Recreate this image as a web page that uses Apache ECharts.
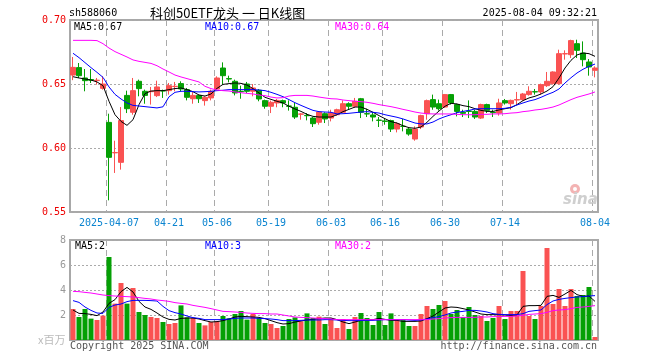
<!DOCTYPE html>
<html><head><meta charset="utf-8">
<script src="https://cdn.jsdelivr.net/npm/echarts@6/dist/echarts.min.js"></script>
<style>html,body{margin:0;padding:0;background:#fff}#c{width:660px;height:360px}</style>
</head><body><div id="c"></div>
<script>
const dates = ['2025-03-27','2025-03-28','2025-03-31','2025-04-01','2025-04-02','2025-04-03','2025-04-07','2025-04-08','2025-04-09','2025-04-10','2025-04-11','2025-04-14','2025-04-15','2025-04-16','2025-04-17','2025-04-18','2025-04-21','2025-04-22','2025-04-23','2025-04-24','2025-04-25','2025-04-28','2025-04-29','2025-04-30','2025-05-06','2025-05-07','2025-05-08','2025-05-09','2025-05-12','2025-05-13','2025-05-14','2025-05-15','2025-05-16','2025-05-19','2025-05-20','2025-05-21','2025-05-22','2025-05-23','2025-05-26','2025-05-27','2025-05-28','2025-05-29','2025-05-30','2025-06-03','2025-06-04','2025-06-05','2025-06-06','2025-06-09','2025-06-10','2025-06-11','2025-06-12','2025-06-13','2025-06-16','2025-06-17','2025-06-18','2025-06-19','2025-06-20','2025-06-23','2025-06-24','2025-06-25','2025-06-26','2025-06-27','2025-06-30','2025-07-01','2025-07-02','2025-07-03','2025-07-04','2025-07-07','2025-07-08','2025-07-09','2025-07-10','2025-07-11','2025-07-14','2025-07-15','2025-07-16','2025-07-17','2025-07-18','2025-07-21','2025-07-22','2025-07-23','2025-07-24','2025-07-25','2025-07-28','2025-07-29','2025-07-30','2025-07-31','2025-08-01','2025-08-04'];
const tickDates = ['2025-04-07','2025-04-21','2025-05-06','2025-05-19','2025-06-03','2025-06-16','2025-06-30','2025-07-14','2025-08-04'];
const tickLabels = ['2025-04-07','04-21','05-06','05-19','06-03','06-16','06-30','07-14','08-04'];

const opens  = [0.6570,0.6628,0.6547,0.6535,0.6527,0.6466,0.6200,0.5962,0.5888,0.6411,0.6279,0.6521,0.6443,0.6440,0.6409,0.6448,0.6448,0.6480,0.6503,0.6456,0.6385,0.6411,0.6370,0.6391,0.6461,0.6625,0.6542,0.6521,0.6443,0.6500,0.6443,0.6451,0.6370,0.6326,0.6352,0.6370,0.6328,0.6318,0.6264,0.6255,0.6234,0.6201,0.6268,0.6234,0.6260,0.6279,0.6346,0.6326,0.6385,0.6268,0.6258,0.6218,0.6211,0.6214,0.6148,0.6170,0.6148,0.6070,0.6164,0.6268,0.6378,0.6346,0.6320,0.6417,0.6339,0.6279,0.6289,0.6286,0.6234,0.6339,0.6279,0.6273,0.6370,0.6346,0.6375,0.6378,0.6417,0.6440,0.6438,0.6487,0.6503,0.6503,0.6735,0.6729,0.6815,0.6742,0.6672,0.6607];
const closes = [0.6630,0.6565,0.6526,0.6530,0.6530,0.6500,0.5927,0.5965,0.6214,0.6307,0.6448,0.6464,0.6411,0.6443,0.6477,0.6445,0.6487,0.6482,0.6461,0.6396,0.6411,0.6385,0.6396,0.6443,0.6547,0.6565,0.6539,0.6430,0.6440,0.6443,0.6469,0.6383,0.6326,0.6357,0.6372,0.6352,0.6326,0.6242,0.6266,0.6252,0.6190,0.6281,0.6227,0.6273,0.6299,0.6346,0.6326,0.6365,0.6279,0.6266,0.6242,0.6216,0.6208,0.6148,0.6190,0.6169,0.6109,0.6148,0.6253,0.6370,0.6320,0.6307,0.6417,0.6352,0.6286,0.6271,0.6286,0.6242,0.6339,0.6294,0.6276,0.6352,0.6352,0.6372,0.6378,0.6422,0.6443,0.6438,0.6495,0.6521,0.6594,0.6737,0.6737,0.6839,0.6763,0.6690,0.6633,0.6625];
const lows   = [0.6530,0.6547,0.6443,0.6508,0.6495,0.6456,0.5591,0.5805,0.5831,0.6273,0.6260,0.6404,0.6346,0.6339,0.6398,0.6391,0.6417,0.6443,0.6443,0.6372,0.6346,0.6352,0.6331,0.6372,0.6456,0.6495,0.6513,0.6411,0.6385,0.6430,0.6404,0.6365,0.6307,0.6273,0.6318,0.6318,0.6292,0.6227,0.6221,0.6216,0.6164,0.6182,0.6195,0.6208,0.6253,0.6274,0.6299,0.6313,0.6234,0.6242,0.6208,0.6164,0.6182,0.6125,0.6122,0.6130,0.6096,0.6057,0.6148,0.6221,0.6299,0.6292,0.6313,0.6339,0.6247,0.6242,0.6234,0.6227,0.6227,0.6273,0.6242,0.6253,0.6339,0.6300,0.6339,0.6370,0.6409,0.6417,0.6417,0.6477,0.6495,0.6495,0.6690,0.6703,0.6703,0.6638,0.6565,0.6552];
const highs  = [0.6711,0.6664,0.6617,0.6617,0.6547,0.6560,0.6268,0.6057,0.6320,0.6448,0.6547,0.6534,0.6456,0.6477,0.6526,0.6456,0.6508,0.6516,0.6521,0.6469,0.6443,0.6417,0.6404,0.6456,0.6560,0.6669,0.6565,0.6534,0.6487,0.6516,0.6500,0.6461,0.6378,0.6370,0.6383,0.6378,0.6372,0.6352,0.6273,0.6273,0.6242,0.6286,0.6279,0.6299,0.6307,0.6372,0.6357,0.6391,0.6391,0.6307,0.6279,0.6242,0.6234,0.6221,0.6201,0.6227,0.6164,0.6169,0.6260,0.6378,0.6417,0.6378,0.6422,0.6422,0.6346,0.6299,0.6372,0.6299,0.6346,0.6346,0.6299,0.6385,0.6383,0.6378,0.6438,0.6430,0.6482,0.6461,0.6503,0.6594,0.6599,0.6768,0.6763,0.6846,0.6846,0.6833,0.6695,0.6638];

const ma5  = [0.6557,0.6547,0.6539,0.6531,0.6516,0.6487,0.6365,0.6260,0.6208,0.6177,0.6221,0.6339,0.6425,0.6445,0.6448,0.6448,0.6456,0.6464,0.6469,0.6456,0.6440,0.6414,0.6406,0.6422,0.6466,0.6497,0.6503,0.6508,0.6505,0.6492,0.6464,0.6430,0.6396,0.6380,0.6365,0.6352,0.6326,0.6305,0.6286,0.6263,0.6247,0.6242,0.6242,0.6242,0.6260,0.6284,0.6302,0.6320,0.6320,0.6302,0.6279,0.6253,0.6229,0.6206,0.6195,0.6174,0.6159,0.6154,0.6164,0.6201,0.6247,0.6289,0.6326,0.6349,0.6344,0.6331,0.6323,0.6307,0.6294,0.6286,0.6286,0.6297,0.6307,0.6315,0.6339,0.6370,0.6391,0.6404,0.6422,0.6445,0.6479,0.6547,0.6625,0.6685,0.6727,0.6742,0.6737,0.6716];
const ma10 = [0.6740,0.6706,0.6667,0.6628,0.6591,0.6552,0.6477,0.6419,0.6383,0.6352,0.6333,0.6328,0.6323,0.6318,0.6313,0.6322,0.6400,0.6435,0.6443,0.6443,0.6440,0.6438,0.6440,0.6443,0.6448,0.6451,0.6456,0.6456,0.6456,0.6456,0.6456,0.6453,0.6448,0.6435,0.6419,0.6401,0.6378,0.6354,0.6333,0.6313,0.6294,0.6284,0.6281,0.6279,0.6266,0.6268,0.6271,0.6276,0.6281,0.6284,0.6279,0.6273,0.6260,0.6250,0.6240,0.6227,0.6211,0.6195,0.6188,0.6188,0.6203,0.6227,0.6245,0.6260,0.6276,0.6286,0.6294,0.6305,0.6307,0.6307,0.6307,0.6307,0.6310,0.6318,0.6336,0.6352,0.6367,0.6378,0.6396,0.6417,0.6435,0.6461,0.6508,0.6549,0.6586,0.6615,0.6638,0.6656];
const ma30 = [0.6841,0.6841,0.6841,0.6841,0.6839,0.6815,0.6781,0.6753,0.6732,0.6711,0.6688,0.6677,0.6669,0.6661,0.6643,0.6617,0.6594,0.6570,0.6555,0.6542,0.6529,0.6516,0.6482,0.6464,0.6453,0.6448,0.6445,0.6438,0.6432,0.6427,0.6422,0.6414,0.6409,0.6398,0.6391,0.6393,0.6406,0.6411,0.6411,0.6411,0.6406,0.6398,0.6391,0.6385,0.6383,0.6375,0.6370,0.6365,0.6362,0.6357,0.6349,0.6339,0.6331,0.6323,0.6313,0.6302,0.6292,0.6281,0.6273,0.6268,0.6266,0.6266,0.6266,0.6266,0.6263,0.6260,0.6260,0.6260,0.6263,0.6263,0.6266,0.6266,0.6268,0.6273,0.6276,0.6284,0.6289,0.6297,0.6302,0.6310,0.6320,0.6336,0.6357,0.6378,0.6396,0.6409,0.6422,0.6438];

const volumes = [2.48,1.84,2.48,1.71,1.60,1.95,6.64,2.91,4.56,2.91,4.16,2.24,2.00,1.84,1.76,1.44,1.28,1.36,2.77,1.81,1.76,1.36,1.17,1.44,1.49,1.92,1.73,2.08,2.32,1.63,2.08,1.76,1.36,1.28,0.96,1.12,1.68,1.81,1.49,2.13,1.76,1.87,1.28,1.71,0.96,1.68,0.88,1.84,2.16,1.76,1.20,2.24,1.20,2.13,1.68,1.68,1.12,1.12,2.08,2.72,2.48,2.80,3.12,2.08,2.40,1.84,2.64,2.00,1.92,1.52,1.76,2.72,1.68,2.32,2.32,5.52,1.92,1.68,2.72,7.36,2.88,4.08,2.72,4.08,3.52,3.60,4.24,0.24];
const vma5  = [2.40,2.13,2.11,2.05,1.95,2.24,2.93,3.23,3.87,4.21,3.84,3.09,2.64,2.45,2.16,1.84,1.65,1.60,1.73,1.76,1.76,1.68,1.55,1.44,1.47,1.55,1.68,1.84,1.89,1.87,1.84,1.81,1.71,1.55,1.39,1.28,1.31,1.44,1.52,1.60,1.65,1.71,1.76,1.76,1.63,1.44,1.31,1.44,1.57,1.63,1.63,1.73,1.65,1.57,1.57,1.49,1.49,1.49,1.52,1.71,1.92,2.24,2.56,2.64,2.61,2.51,2.40,2.24,2.08,2.03,2.03,2.03,2.00,1.97,2.00,2.69,2.75,2.75,2.77,3.49,3.57,3.41,3.68,3.97,3.63,3.49,3.52,3.09];
const vma10 = [3.15,3.01,2.64,2.37,2.16,2.13,2.61,2.80,2.88,3.07,3.17,3.17,3.17,3.15,3.12,2.69,2.35,2.19,2.08,1.92,1.79,1.73,1.63,1.63,1.63,1.63,1.68,1.73,1.76,1.76,1.76,1.73,1.71,1.68,1.63,1.55,1.55,1.55,1.57,1.60,1.60,1.60,1.63,1.63,1.60,1.57,1.55,1.55,1.57,1.57,1.57,1.60,1.63,1.63,1.63,1.63,1.60,1.57,1.60,1.68,1.79,1.87,2.00,2.16,2.24,2.29,2.37,2.37,2.32,2.24,2.11,2.05,2.03,2.03,2.03,2.11,2.29,2.35,2.40,2.83,3.12,3.25,3.33,3.39,3.44,3.47,3.52,3.55];
const vma30 = [3.89,3.87,3.81,3.76,3.68,3.60,3.55,3.52,3.49,3.47,3.44,3.39,3.33,3.28,3.20,3.15,3.09,2.99,2.93,2.88,2.77,2.69,2.61,2.51,2.40,2.29,2.27,2.24,2.21,2.16,2.13,2.11,2.11,2.08,2.08,2.00,1.92,1.84,1.81,1.79,1.76,1.73,1.71,1.68,1.63,1.63,1.63,1.63,1.63,1.63,1.63,1.63,1.63,1.63,1.63,1.63,1.63,1.63,1.63,1.63,1.68,1.71,1.76,1.79,1.81,1.81,1.81,1.81,1.84,1.84,1.87,1.87,1.89,1.89,1.92,1.97,2.05,2.08,2.11,2.21,2.35,2.40,2.43,2.51,2.61,2.64,2.69,2.75];

const UP = '#fa5252', DOWN = '#05a005';
const MONO = 'DejaVu Sans Mono';
const tickIdx = tickDates.map(d => dates.indexOf(d));

const chart = echarts.init(document.getElementById('c'), null, {renderer: 'canvas'});
const kData = dates.map((d, i) => [opens[i], closes[i], lows[i], highs[i]]);
const volData = volumes.map((v, i) => ({value: v, itemStyle: {color: closes[i] >= opens[i] ? UP : DOWN}}));

const xCommon = {
  type: 'category', data: dates, boundaryGap: true,
  axisLine: {show: false}, axisTick: {show: false},
  splitLine: {show: true, interval: (i) => tickIdx.indexOf(i) >= 0,
    lineStyle: {color: '#aaa', type: [6, 4], width: 1}}
};

function txt(x, y, s, color, opts) {
  return {type: 'text', x: x, y: y, silent: true, z: 10,
    style: Object.assign({text: s, fill: color, font: '10px "' + MONO + '"', textVerticalAlign: 'middle'}, opts || {})};
}

chart.setOption({
  animation: false,
  backgroundColor: '#fff',
  grid: [
    {left: 70, top: 20, width: 528, height: 192, show: true, borderColor: '#a8a8a8', borderWidth: 2, backgroundColor: 'transparent'},
    {left: 70, top: 240, width: 528, height: 100, show: true, borderColor: '#a8a8a8', borderWidth: 2, backgroundColor: 'transparent'}
  ],
  xAxis: [
    Object.assign({}, xCommon, {gridIndex: 0,
      axisLabel: {show: true, interval: (i) => tickIdx.indexOf(i) >= 0, color: '#0a84d0', fontFamily: MONO, fontSize: 10, margin: 6,
        formatter: (v) => tickLabels[tickDates.indexOf(v)] || ''}}),
    Object.assign({}, xCommon, {gridIndex: 1, axisLabel: {show: false}})
  ],
  yAxis: [
    {gridIndex: 0, type: 'value', min: 0.55, max: 0.70, interval: 0.05, scale: true,
      axisLine: {show: false}, axisTick: {show: false},
      axisLabel: {color: '#ee0000', fontFamily: MONO, fontSize: 10, margin: 4, formatter: (v) => v.toFixed(2)},
      splitLine: {show: true, lineStyle: {color: '#aaa', type: [2, 2], width: 1}}},
    {gridIndex: 1, type: 'value', min: 0, max: 8, interval: 2,
      axisLine: {show: false}, axisTick: {show: false},
      axisLabel: {color: '#999', fontFamily: MONO, fontSize: 10, margin: 4, formatter: (v) => v === 0 ? '' : String(v)},
      splitLine: {show: true, lineStyle: {color: '#aaa', type: [2, 2], width: 1}}}
  ],
  series: [
    {type: 'candlestick', xAxisIndex: 0, yAxisIndex: 0, data: kData, barWidth: 5,
      itemStyle: {color: UP, color0: DOWN, borderColor: UP, borderColor0: DOWN, borderWidth: 1}},
    {type: 'line', xAxisIndex: 0, yAxisIndex: 0, data: ma5, showSymbol: false, lineStyle: {color: '#000', width: 1}},
    {type: 'line', xAxisIndex: 0, yAxisIndex: 0, data: ma10, showSymbol: false, lineStyle: {color: '#0000ff', width: 1}},
    {type: 'line', xAxisIndex: 0, yAxisIndex: 0, data: ma30, showSymbol: false, lineStyle: {color: '#ff00ff', width: 1}},
    {type: 'bar', xAxisIndex: 1, yAxisIndex: 1, data: volData, barWidth: 5},
    {type: 'line', xAxisIndex: 1, yAxisIndex: 1, data: vma5, showSymbol: false, lineStyle: {color: '#000', width: 1}},
    {type: 'line', xAxisIndex: 1, yAxisIndex: 1, data: vma10, showSymbol: false, lineStyle: {color: '#0000ff', width: 1}},
    {type: 'line', xAxisIndex: 1, yAxisIndex: 1, data: vma30, showSymbol: false, lineStyle: {color: '#ff00ff', width: 1}}
  ],
  graphic: [
    txt(69, 13, 'sh588060', '#000'),
    txt(150, 13, '科创50ETF龙头 一 日K线图', '#000', {font: '13px "Noto Sans CJK SC"'}),
    txt(597, 13, '2025-08-04 09:32:21', '#000', {textAlign: 'right'}),
    txt(74, 27, 'MA5:0.67', '#000'),
    txt(205, 27, 'MA10:0.67', '#0000ff'),
    txt(335, 27, 'MA30:0.64', '#ff00ff'),
    txt(75, 246, 'MA5:2', '#000'),
    txt(205, 246, 'MA10:3', '#0000ff'),
    txt(335, 246, 'MA30:2', '#ff00ff'),
    txt(38, 340, 'x百万', '#bbb', {font: '11px "Noto Sans CJK SC"'}),
    txt(70, 346, 'Copyright 2025 SINA.COM', '#555'),
    txt(597, 346, 'http://finance.sina.com.cn', '#555', {textAlign: 'right'}),
    {type: 'circle', silent: true, z: 9, shape: {cx: 575, cy: 189, r: 5}, style: {fill: '#f3b3b3'}},
    {type: 'circle', silent: true, z: 9, shape: {cx: 575, cy: 189, r: 2}, style: {fill: '#fff'}},
    txt(563, 200, 'sina', '#cfcfcf', {font: 'italic bold 15px "DejaVu Sans"'})
  ]
});
</script></body></html>
